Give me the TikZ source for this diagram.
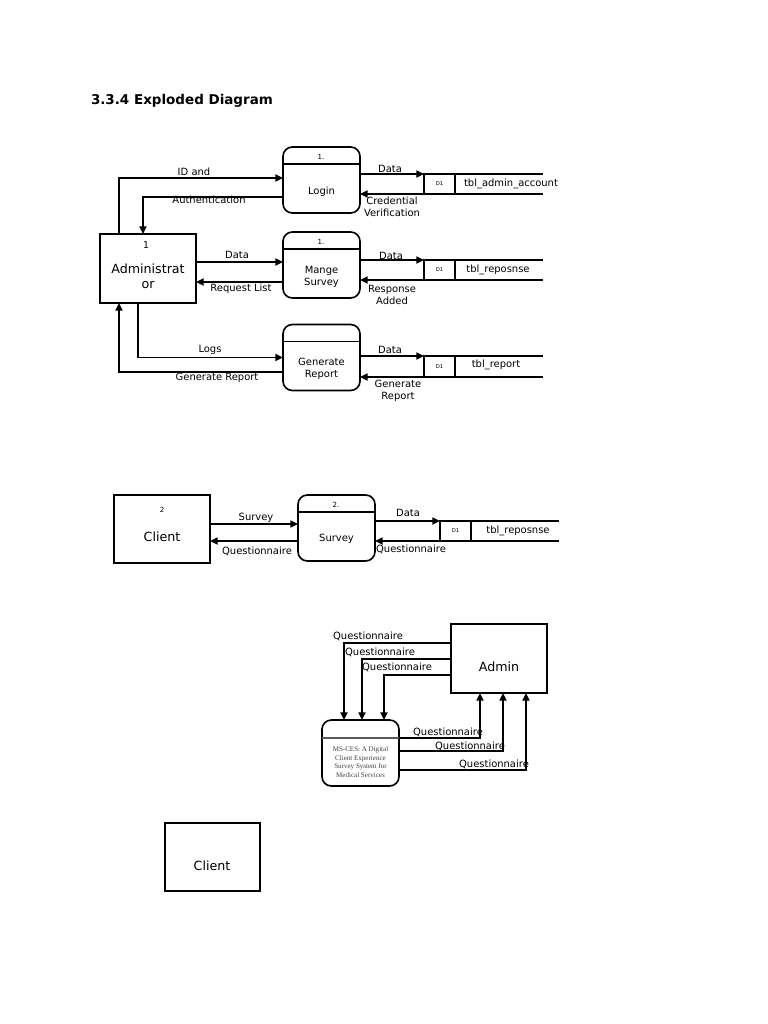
\documentclass[tikz,border=0pt]{standalone}
\usepackage{fontspec}
\setmainfont{DejaVu Sans}
\newfontfamily\mscesfont{Liberation Serif}
\usetikzlibrary{arrows.meta,positioning,calc}

\def\px{0.03cm}

\begin{document}
\begin{tikzpicture}[
    x=0.03cm, y=-0.03cm,
    >={Triangle[length=6.5pt,width=6pt]},
    every node/.style={font=\fontsize{8.5}{10}\selectfont, inner sep=0pt, outer sep=0pt},
    entity/.style={draw, line width=1.4pt, minimum width=96*\px, minimum height=69*\px},
    process/.style={draw, line width=1.4pt, rounded corners=8pt,
        minimum width=77*\px, minimum height=66*\px},
    store/.style={draw, line width=1.2pt, minimum width=31*\px, minimum height=20*\px,
        font=\fontsize{4.5}{5}\selectfont},
    divider/.style={line width=1.4pt},
    openline/.style={line width=1.4pt},
    flow/.style={->, line width=1.4pt},
    lbl/.style={align=center, font=\fontsize{8.5}{10.4}\selectfont},
    bigtext/.style={align=center, font=\fontsize{10.8}{13}\selectfont},
    numtext/.style={font=\fontsize{6}{7}\selectfont}
]
\useasboundingbox (0,0) rectangle (768,1024);

% Heading
\node[anchor=west, font=\fontsize{11.5}{14}\selectfont\bfseries] (title) at (91,101) {3.3.4 Exploded Diagram};

% ---------------- Administrator part ----------------
\node[entity] (adm) at (148,268.5) {};
\node[font=\fontsize{8}{9}\selectfont] (adm-num) at (146,245) {1};
\node[bigtext] (adm-name) at (148,276.5) {Administrat\\or};

% Processes
\node[process] (login)  at (321.5,180)   {};
\node[process] (mange)  at (321.5,265)   {};
\node[process] (genrep) at (321.5,357.5) {};
\draw[divider] ($(login.north west)+(0,17)$)  -- ($(login.north east)+(0,17)$);
\draw[divider] ($(mange.north west)+(0,17)$)  -- ($(mange.north east)+(0,17)$);
\draw[divider] ($(genrep.north west)+(0,17)$) -- ($(genrep.north east)+(0,17)$);
\node[numtext] (login-num) at (321,157) {1.};
\node[numtext] (mange-num) at (321,242) {1.};
\node[lbl] (login-name)  at (321.5,192) {Login};
\node[lbl] (mange-name)  at (321.5,277) {Mange\\Survey};
\node[lbl] (genrep-name) at (321.5,369) {Generate\\Report};

% Data stores
\node[store] (s1) at (439.5,184)   {D1};
\node[store] (s2) at (439.5,270)   {D1};
\node[store, minimum height=21*\px] (s3) at (439.5,366.5) {D1};
\foreach \s in {s1,s2,s3}{
    \draw[openline] (\s.north east) -- ++(88,0);
    \draw[openline] (\s.south east) -- ++(88,0);
}
\node[lbl] (t1) at (511,184) {tbl\_admin\_account};
\node[lbl] (t2) at (498,270) {tbl\_reposnse};
\node[lbl] (t3) at (496,365) {tbl\_report};

% Administrator <-> processes
\draw[flow] ([xshift=-29*\px]adm.north) |- ([yshift=2*\px]login.west);
\draw[flow] ([yshift=-17*\px]login.west) -| ([xshift=-5*\px]adm.north);
\draw[flow] ([yshift=6.5*\px]adm.east) -- ([yshift=3*\px]mange.west);
\draw[flow] ([yshift=-17*\px]mange.west) -- ([yshift=-13.5*\px]adm.east);
\draw[flow] ([xshift=-10*\px]adm.south) |- (genrep.west);
\draw[flow] ([yshift=-14.5*\px]genrep.west) -| ([xshift=-29*\px]adm.south);

\node[lbl] (l-id)   at (194,172) {ID and};
\node[lbl] (l-auth) at (209,200) {Authentication};
\node[lbl] (l-d1)   at (237,255) {Data};
\node[lbl] (l-req)  at (241,289) {Request List};
\node[lbl] (l-logs) at (210,350) {Logs};
\node[lbl] (l-gen)  at (217,378) {Generate Report};

% Processes <-> data stores
\draw[flow] (login.east |- s1.north west) -- (s1.north west);
\draw[flow] (s1.south west) -- (login.east |- s1.south west);
\draw[flow] (mange.east |- s2.north west) -- (s2.north west);
\draw[flow] (s2.south west) -- (mange.east |- s2.south west);
\draw[flow] (genrep.east |- s3.north west) -- (s3.north west);
\draw[flow] (s3.south west) -- (genrep.east |- s3.south west);

\node[lbl] (l-d2)   at (390,169) {Data};
\node[lbl] (l-cred) at (392,207) {Credential\\Verification};
\node[lbl] (l-d3)   at (391,256) {Data};
\node[lbl] (l-resp) at (392,295) {Response\\Added};
\node[lbl] (l-d4)   at (390,350) {Data};
\node[lbl] (l-gen2) at (398,391) {Generate\\Report};

% ---------------- Client part ----------------
\node[entity, minimum height=68*\px] (cli) at (162,529) {};
\node[numtext] (cli-num) at (162,510) {2};
\node[bigtext] (cli-name) at (162,537) {Client};

\node[process] (survey) at (336.5,528) {};
\draw[divider] ($(survey.north west)+(0,17)$) -- ($(survey.north east)+(0,17)$);
\node[numtext] (survey-num) at (336,505) {2.};
\node[lbl] (survey-name) at (336.5,539) {Survey};

\node[store] (s4) at (455.5,531) {D1};
\draw[openline] (s4.north east) -- ++(88,0);
\draw[openline] (s4.south east) -- ++(88,0);
\node[lbl] (t4) at (518,531) {tbl\_reposnse};

\draw[flow] ([yshift=5*\px]cli.east) -- ([yshift=4*\px]survey.west);
\draw[flow] ([yshift=-13*\px]survey.west) -- ([yshift=-12*\px]cli.east);
\draw[flow] (survey.east |- s4.north west) -- (s4.north west);
\draw[flow] (s4.south west) -- (survey.east |- s4.south west);

\node[lbl] (l-surv) at (256,518) {Survey};
\node[lbl] (l-q1)   at (257,551) {Questionnaire};
\node[lbl] (l-d5)   at (408,513) {Data};
\node[lbl] (l-q2)   at (411,549) {Questionnaire};

% ---------------- Context part ----------------
\node[entity] (adm2) at (499,658.5) {};
\node[bigtext] (adm2-name) at (499,667) {Admin};

\node[process] (msces) at (360.5,753) {};
\draw[divider, gray!70!black] ($(msces.north west)+(0,18)$) -- ($(msces.north east)+(0,18)$);
\node[align=center, text=black!75, font=\mscesfont\fontsize{6}{7.4}\selectfont] (msces-name) at (360.5,762)
    {MS-CES: A Digital\\Client Experience\\Survey System for\\Medical Services};

\draw[flow] ([yshift=15.5*\px]adm2.west) -| ([xshift=-16.5*\px]msces.north);
\draw[flow] ([yshift=-0.5*\px]adm2.west) -| ([xshift=1.5*\px]msces.north);
\draw[flow] ([yshift=-16.5*\px]adm2.west) -| ([xshift=23.5*\px]msces.north);
\draw[flow] ([yshift=15*\px]msces.east) -| ([xshift=-19*\px]adm2.south);
\draw[flow] ([yshift=2*\px]msces.east) -| ([xshift=4*\px]adm2.south);
\draw[flow] ([yshift=-17*\px]msces.east) -| ([xshift=27*\px]adm2.south);

\node[lbl] (l-q3) at (368,636) {Questionnaire};
\node[lbl] (l-q4) at (380,652) {Questionnaire};
\node[lbl] (l-q5) at (397,667) {Questionnaire};
\node[lbl] (l-q6) at (448,732) {Questionnaire};
\node[lbl] (l-q7) at (470,746) {Questionnaire};
\node[lbl] (l-q8) at (494,764) {Questionnaire};

\node[entity, minimum width=95*\px, minimum height=68*\px] (cli2) at (212.5,857) {};
\node[bigtext] (cli2-name) at (212,866) {Client};

\end{tikzpicture}
\end{document}
